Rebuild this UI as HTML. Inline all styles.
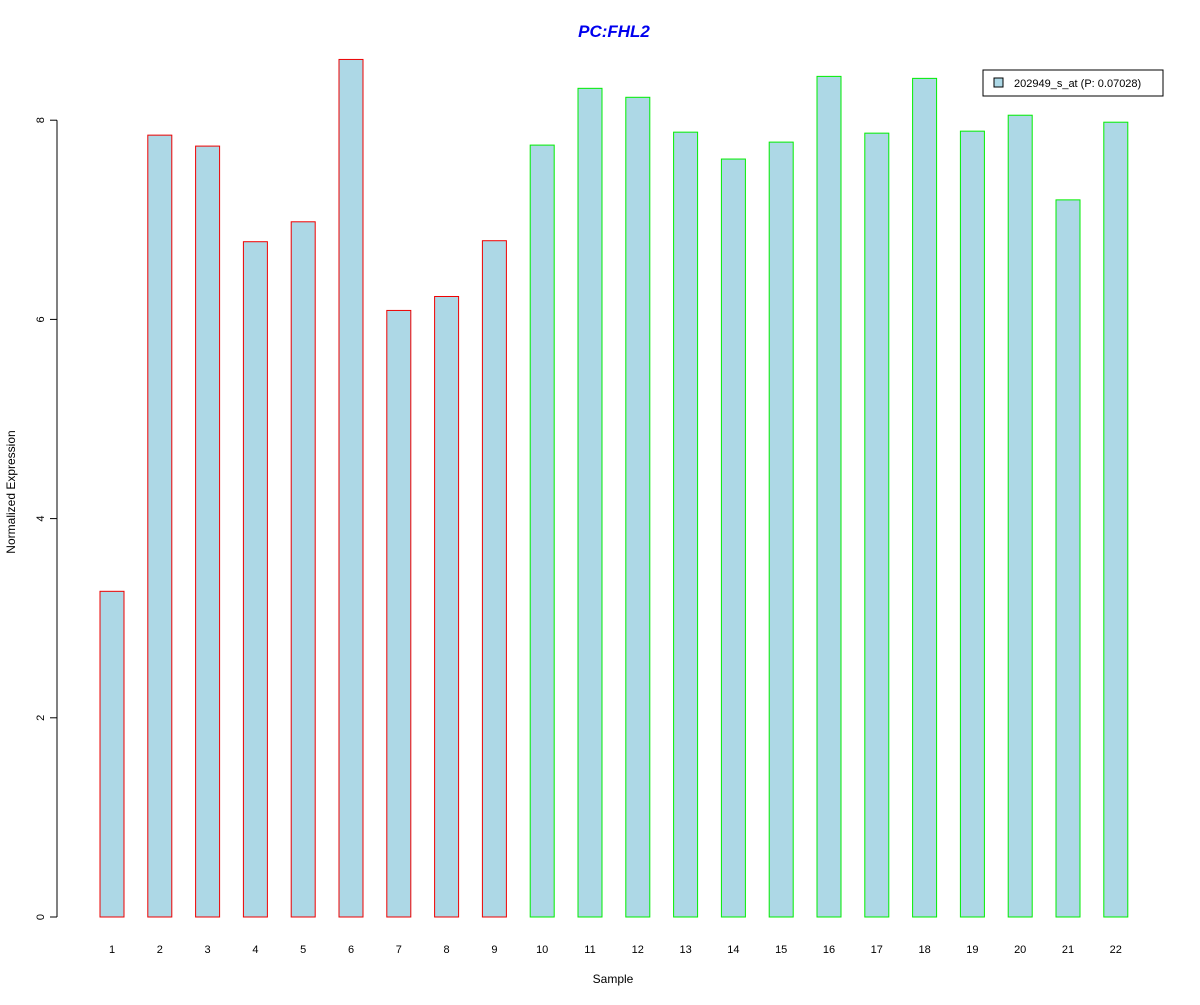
<!DOCTYPE html>
<html><head><meta charset="utf-8"><style>body{margin:0;background:#fff}svg text{font-family:"Liberation Sans",sans-serif}</style></head>
<body>
<svg id="chart" width="1200" height="1000" xmlns="http://www.w3.org/2000/svg">
<rect width="1200" height="1000" fill="#fff"/>
<text x="614" y="37" text-anchor="middle" font-size="17" font-weight="bold" font-style="italic" fill="#0000ee">PC:FHL2</text>
<text x="613" y="983" text-anchor="middle" font-size="12">Sample</text>
<text transform="translate(15,492) rotate(-90)" text-anchor="middle" font-size="12">Normalized Expression</text>
<g id="yaxis"></g>
<g id="bars"></g>
<g id="xlabels"></g>
<g>
<rect x="983" y="70" width="180" height="26" fill="#fff" stroke="#000"/>
<rect x="994" y="78" width="9" height="9" fill="#add8e6" stroke="#000"/>
<text x="1014" y="87" font-size="11">202949_s_at (P: 0.07028)</text>
</g>
</svg>
<script>
const categories=["1","2","3","4","5","6","7","8","9","10","11","12","13","14","15","16","17","18","19","20","21","22"];
const values=[3.27,7.85,7.74,6.78,6.98,6.61+2,6.09,6.23,6.79,7.75,8.32,8.23,7.88,7.61,7.78,8.44,7.87,8.42,7.89,8.05,7.20,7.98];
const groups=["PC","PC","PC","PC","PC","PC","PC","PC","PC","N","N","N","N","N","N","N","N","N","N","N","N","N"];
const yTicks=[0,2,4,6,8];
const NS="http://www.w3.org/2000/svg";
const y=v=>917-v*99.6;
const x=i=>112+i*47.8;
function mk(t,a,p){const e=document.createElementNS(NS,t);for(const k in a)e.setAttribute(k,a[k]);p.appendChild(e);return e;}
const ya=document.getElementById('yaxis');
const yl=mk('line',{x1:57,x2:57,y1:y(0),y2:y(8),stroke:'#000'},ya);


yTicks.forEach(t=>{
 const l=mk('line',{x1:50,x2:57,y1:y(t),y2:y(t),stroke:'#000'},ya);
 
 
 const tx=mk('text',{transform:`translate(44,${y(t)}) rotate(-90)`,'text-anchor':'middle','font-size':11},ya);
 tx.textContent=t;
 
 
});
const bg=document.getElementById('bars'),xg=document.getElementById('xlabels');
values.forEach((v,i)=>{
 const r=mk('rect',{x:x(i)-12,y:y(v),width:24,height:y(0)-y(v),fill:'#add8e6',stroke:groups[i]==='PC'?'#ee0000':'#00ee00'},bg);
 
 
 const t=mk('text',{x:x(i),y:953,'text-anchor':'middle','font-size':11},xg);
 t.textContent=categories[i];
 
 
});
</script>
</body></html>
